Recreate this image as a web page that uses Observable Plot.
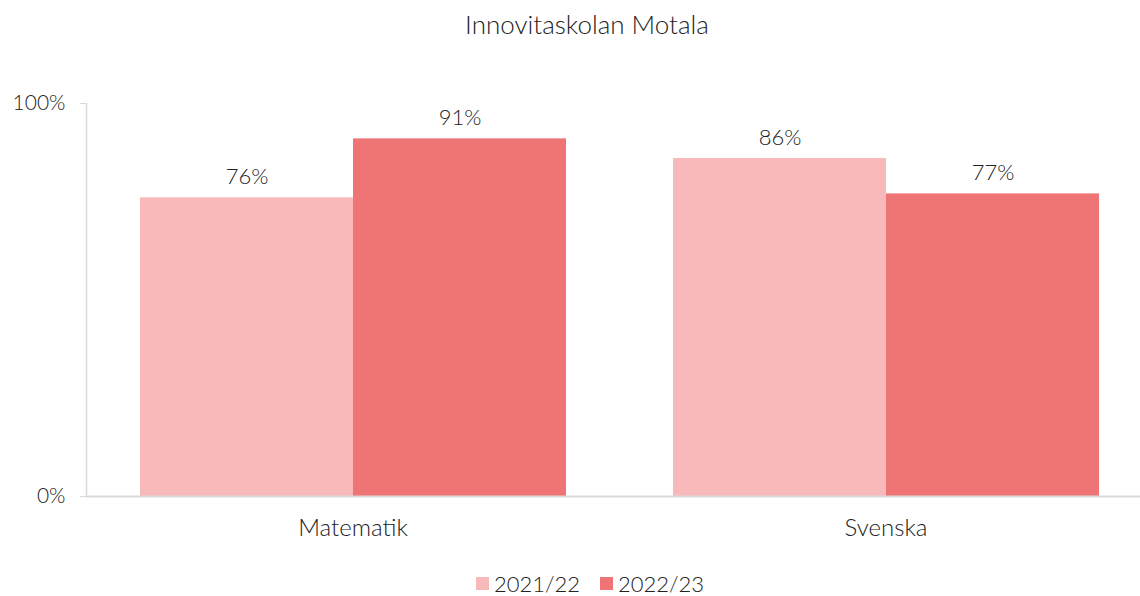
<!DOCTYPE html>
<html>
<head>
<meta charset="utf-8">
<script src="https://cdn.jsdelivr.net/npm/d3@7"></script>
<script src="https://cdn.jsdelivr.net/npm/@observablehq/plot@0.6"></script>
<style>
  html, body { margin: 0; padding: 0; background: #fff; }
  body { width: 1140px; font-family: Lato, "Open Sans", sans-serif; font-weight: 300; color: #222; }
  #title { height: 48px; line-height: 48px; text-align: center; font-size: 26px; color: #222; padding-left: 34px; }
  #legend { display: flex; justify-content: center; align-items: center; gap: 20px; font-size: 22px; color: #222; margin-top: 20px; padding-left: 40px; }
  #legend .item { display: flex; align-items: center; gap: 5px; }
  #legend .sw { width: 13px; height: 13px; display: inline-block; }
</style>
</head>
<body>
<div id="title">Innovitaskolan Motala</div>
<div id="chart"></div>
<div id="legend"></div>
<script>
const title = "Innovitaskolan Motala";
const subjects = ["Matematik", "Svenska"];
const years = ["2021/22", "2022/23"];
const values2021 = [76, 86];
const values2022 = [91, 77];
const colors = ["#f8b9ba", "#ef7476"];
const yTicks = [0, 100];

const data = [];
subjects.forEach((s, i) => {
  data.push({subject: s, year: years[0], value: values2021[i]});
  data.push({subject: s, year: years[1], value: values2022[i]});
});

const font = "Lato, 'Open Sans', sans-serif";
const chart = Plot.plot({
  width: 1140,
  height: 502,
  marginLeft: 86,
  marginRight: -12,
  marginTop: 55,
  marginBottom: 54,
  style: {fontFamily: font, fontWeight: 300, color: "#222", background: "#fff", overflow: "visible"},
  fx: {domain: subjects, padding: 0, label: null, axis: null},
  x: {domain: years, paddingInner: 0, paddingOuter: 0.251, axis: null},
  y: {domain: [0, 100], axis: null, label: null},
  color: {domain: years, range: colors},
  marks: [
    Plot.barY(data, {fx: "subject", x: "year", y: "value", fill: "year"}),
    Plot.ruleY([0], {stroke: "#d9d9d9", strokeWidth: 2}),
    Plot.frame({anchor: "left", facetAnchor: "left", stroke: "#d9d9d9", strokeWidth: 1.5}),
    Plot.axisY({ticks: yTicks, tickFormat: d => d + "%", tickSize: 6, tickPadding: 15, stroke: "#d9d9d9", fontSize: 21, fill: "#222", label: null}),
    Plot.axisFx({anchor: "bottom", tickSize: 0, tickPadding: 22, fontSize: 24, fill: "#222", label: null}),
    Plot.text(data, {fx: "subject", x: "year", y: "value", text: d => d.value + "%", lineAnchor: "bottom", dy: -14, fontSize: 22, fill: "#222"})
  ]
});
document.getElementById("chart").appendChild(chart);

const legend = document.getElementById("legend");
years.forEach((y, i) => {
  const item = document.createElement("span");
  item.className = "item";
  const sw = document.createElement("span");
  sw.className = "sw";
  sw.style.background = colors[i];
  const lab = document.createElement("span");
  lab.textContent = y;
  item.appendChild(sw);
  item.appendChild(lab);
  legend.appendChild(item);
});
</script>
</body>
</html>
